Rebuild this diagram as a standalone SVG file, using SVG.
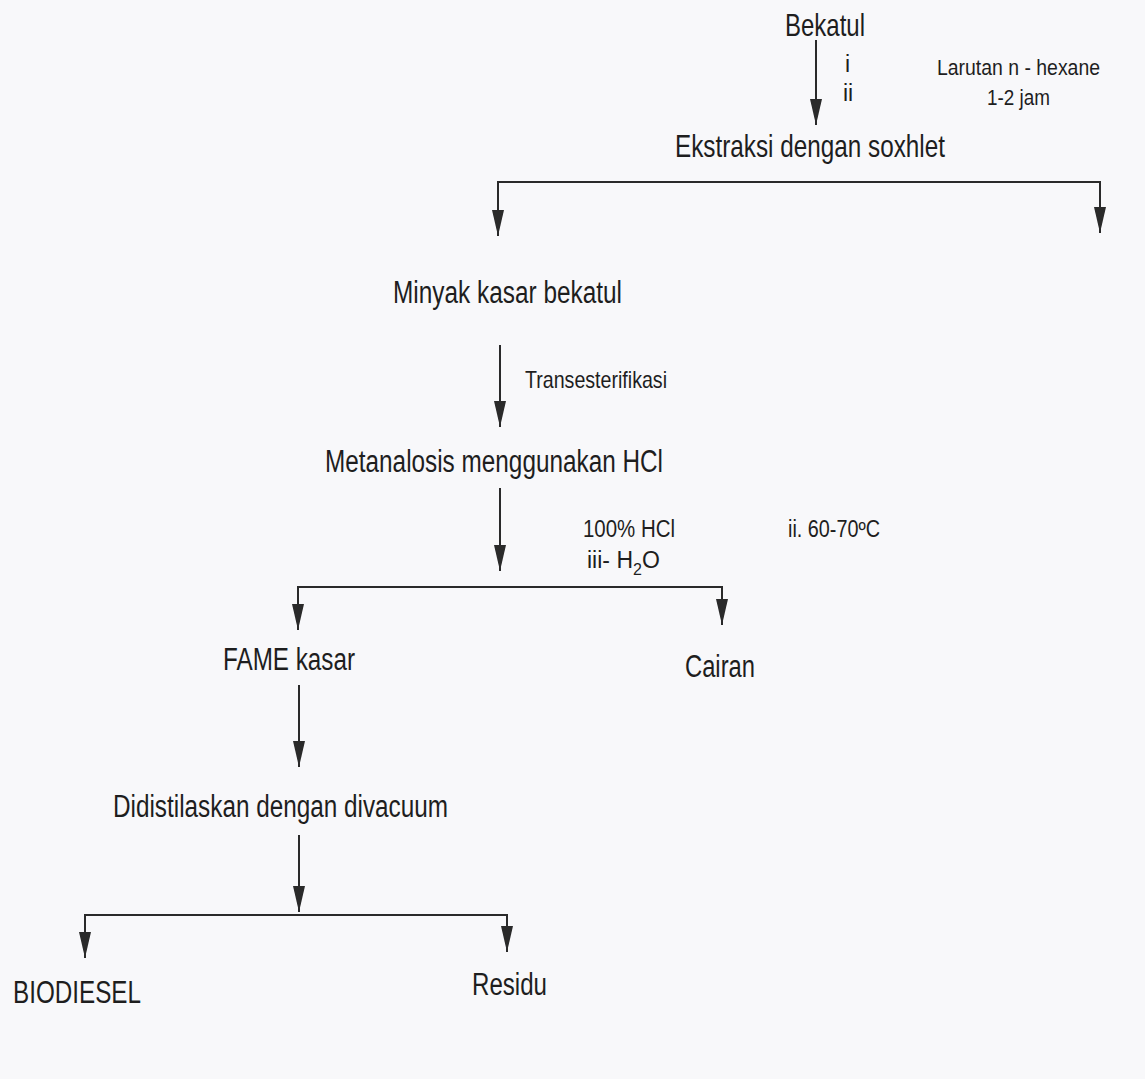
<svg xmlns="http://www.w3.org/2000/svg" width="1145" height="1079" viewBox="0 0 1145 1079">
<defs>
<style>
.t{font-family:"Liberation Sans Narrow","Liberation Sans",Arial,sans-serif;fill:#1e1e1e;}
.c{stroke:#2a2a2a;stroke-width:2;fill:none;}
</style>
<marker id="ah" markerUnits="userSpaceOnUse" markerWidth="26" markerHeight="12" viewBox="0 0 26 12" refX="26" refY="6" orient="auto-start-reverse">
<path d="M0,0 L26,6 L0,12 Z" fill="#2a2a2a"/>
</marker>
</defs>
<rect width="1145" height="1079" fill="#f8f8fa"/>
<g id="connectors">
<path class="c" d="M816,40 V125" marker-end="url(#ah)"/>
<path class="c" d="M498,236 V182 H1100 V233" marker-start="url(#ah)" marker-end="url(#ah)"/>
<path class="c" d="M500,345 V427" marker-end="url(#ah)"/>
<path class="c" d="M500,488 V571" marker-end="url(#ah)"/>
<path class="c" d="M298,630 V587 H722 V625" marker-start="url(#ah)" marker-end="url(#ah)"/>
<path class="c" d="M299,685 V767" marker-end="url(#ah)"/>
<path class="c" d="M299,835 V912" marker-end="url(#ah)"/>
<path class="c" d="M85,958 V915 H507 V952" marker-start="url(#ah)" marker-end="url(#ah)"/>
</g>
<g id="n-bekatul"><text class="t" x="785" y="36" font-size="32" textLength="80" lengthAdjust="spacingAndGlyphs">Bekatul</text></g>
<g id="l-step"><text class="t" x="845" y="72" font-size="23">i</text><text class="t" x="843" y="101" font-size="23">ii</text></g>
<g id="l-hexane"><text class="t" x="937" y="75" font-size="22" textLength="163" lengthAdjust="spacingAndGlyphs">Larutan n - hexane</text><text class="t" x="987" y="105" font-size="22" textLength="63" lengthAdjust="spacingAndGlyphs">1-2 jam</text></g>
<g id="n-ekstraksi"><text class="t" x="675" y="157" font-size="32" textLength="270" lengthAdjust="spacingAndGlyphs">Ekstraksi dengan soxhlet</text></g>
<g id="n-minyak"><text class="t" x="393" y="303" font-size="31" textLength="229" lengthAdjust="spacingAndGlyphs">Minyak kasar bekatul</text></g>
<g id="l-trans"><text class="t" x="525" y="388" font-size="24" textLength="142" lengthAdjust="spacingAndGlyphs">Transesterifikasi</text></g>
<g id="n-metanalosis"><text class="t" x="325" y="472" font-size="31" textLength="338" lengthAdjust="spacingAndGlyphs">Metanalosis menggunakan HCl</text></g>
<g id="l-hcl"><text class="t" x="583" y="537" font-size="23" textLength="92" lengthAdjust="spacingAndGlyphs">100% HCl</text><text class="t" x="587" y="568" font-size="23">iii- H<tspan font-size="16" dy="7">2</tspan><tspan dy="-7">O</tspan></text><text class="t" x="788" y="537" font-size="23" textLength="92" lengthAdjust="spacingAndGlyphs">ii. 60-70ºC</text></g>
<g id="n-fame"><text class="t" x="223" y="670" font-size="31" textLength="132" lengthAdjust="spacingAndGlyphs">FAME kasar</text></g>
<g id="n-cairan"><text class="t" x="685" y="677" font-size="31" textLength="70" lengthAdjust="spacingAndGlyphs">Cairan</text></g>
<g id="n-distilasi"><text class="t" x="113" y="817" font-size="31" textLength="335" lengthAdjust="spacingAndGlyphs">Didistilaskan dengan divacuum</text></g>
<g id="n-biodiesel"><text class="t" x="13" y="1003" font-size="31" textLength="128" lengthAdjust="spacingAndGlyphs">BIODIESEL</text></g>
<g id="n-residu"><text class="t" x="472" y="995" font-size="31" textLength="75" lengthAdjust="spacingAndGlyphs">Residu</text></g>
</svg>
